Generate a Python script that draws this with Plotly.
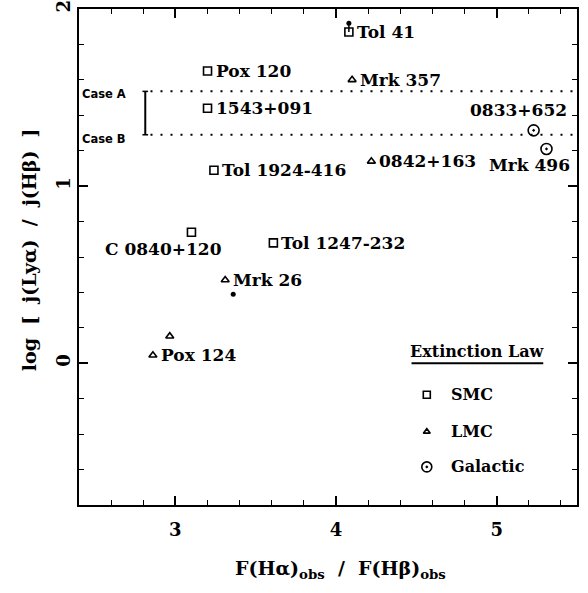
import plotly.graph_objects as go

# Galaxies: observed Balmer decrement vs. intrinsic Lyα/Hβ emissivity ratio
names = ["Tol 41", "Pox 120", "1543+091", "Tol 1924-416", "C 0840+120", "Tol 1247-232",
         "Mrk 357", "0842+163", "Mrk 26", "Pox 124", "0833+652", "Mrk 496"]
ha_hb = [4.08, 3.20, 3.20, 3.24, 3.10, 3.61, 4.10, 4.22, 3.31, 2.86, 5.23, 5.31]
log_ly_hb = [1.87, 1.65, 1.44, 1.09, 0.74, 0.68, 1.60, 1.14, 0.47, 0.045, 1.315, 1.21]
ext_law = ["SMC"] * 6 + ["LMC"] * 4 + ["Galactic"] * 2

# Additional unlabelled LMC-corrected value
extra_x = [2.965]
extra_y = [0.153]

# Alternative estimates (filled dots)
alt_names = ["Tol 41", "Mrk 26"]
alt_x = [4.08, 3.36]
alt_y = [1.92, 0.39]

# Recombination predictions
case_a = 1.535
case_b = 1.29

legend_laws = ["SMC", "LMC", "Galactic"]
x_ticks = [3, 4, 5]
y_ticks = [0, 1, 2]

symbols = {"SMC": "square-open", "LMC": "triangle-up-open", "Galactic": "circle-open-dot"}
sizes = {"SMC": 8, "LMC": 7, "Galactic": 11}

FONT = "DejaVu Serif"
fig = go.Figure()

for law in legend_laws:
    xs = [x for x, l in zip(ha_hb, ext_law) if l == law]
    ys = [y for y, l in zip(log_ly_hb, ext_law) if l == law]
    if law == "LMC":
        xs += extra_x
        ys += extra_y
    fig.add_trace(go.Scatter(
        x=xs, y=ys, mode="markers", showlegend=False,
        marker=dict(symbol=symbols[law], size=sizes[law], color="black",
                    line=dict(color="black", width=1.6))))

# link between Tol 41 estimates
i0 = names.index("Tol 41")
j0 = alt_names.index("Tol 41")
fig.add_trace(go.Scatter(x=[ha_hb[i0], alt_x[j0]], y=[log_ly_hb[i0], alt_y[j0]],
                         mode="lines", line=dict(color="black", width=1.5), showlegend=False))
fig.add_trace(go.Scatter(x=alt_x, y=alt_y, mode="markers", showlegend=False,
                         marker=dict(symbol="circle", size=5, color="black")))

# labels: (xanchor, xshift, yshift)
label_pos = {
    "0833+652": ("center", -15, 20),
    "Mrk 496": ("center", -17, -16),
    "C 0840+120": ("center", -28, -17),
}
for n, x, y in zip(names, ha_hb, log_ly_hb):
    xa, xs, ys = label_pos.get(n, ("left", 6, 0))
    fig.add_annotation(x=x, y=y, text="<b>%s</b>" % n, showarrow=False,
                       xanchor=xa, yanchor="middle", xshift=xs, yshift=ys,
                       font=dict(family=FONT, size=17, color="black"))

# Case A / Case B
x_lo, x_hi = 2.4, 5.5
for yv, lab, dy in [(case_a, "Case A", -3), (case_b, "Case B", -4)]:
    fig.add_shape(type="line", x0=2.845, x1=x_hi, y0=yv, y1=yv,
                  line=dict(color="black", width=2, dash="2px,8px"))
    fig.add_annotation(x=x_lo, y=yv, text="<b>%s</b>" % lab, showarrow=False,
                       xanchor="left", yanchor="middle", xshift=1, yshift=dy,
                       font=dict(family="DejaVu Sans", size=11.5, color="black"))
    fig.add_shape(type="line", x0=2.795, x1=2.83, y0=yv, y1=yv,
                  line=dict(color="black", width=1.5))
fig.add_shape(type="line", x0=2.8125, x1=2.8125, y0=case_b, y1=case_a,
              line=dict(color="black", width=2))

# extinction law key
key_x = 4.565
key_y = [-0.178, -0.386, -0.585]
fig.add_annotation(x=4.88, y=0.064, text="<b>Extinction Law</b>", showarrow=False,
                   xanchor="center", yanchor="middle",
                   font=dict(family=FONT, size=16, color="black"))
fig.add_shape(type="line", x0=4.47, x1=5.29, y0=0.0, y1=0.0,
              line=dict(color="black", width=2))
for law, ky in zip(legend_laws, key_y):
    fig.add_trace(go.Scatter(x=[key_x], y=[ky], mode="markers", showlegend=False,
                             marker=dict(symbol=symbols[law], size=sizes[law] - 1,
                                         color="black", line=dict(color="black", width=1.6))))
    fig.add_annotation(x=key_x, y=ky, text="<b>%s</b>" % law, showarrow=False,
                       xanchor="left", yanchor="middle", xshift=22,
                       font=dict(family=FONT, size=16, color="black"))

axis_common = dict(showline=True, linecolor="black", linewidth=1.6, mirror="ticks",
                   ticks="inside", ticklen=9, tickwidth=1.5, tickcolor="black",
                   showgrid=False, zeroline=False, automargin=False,
                   tickfont=dict(family=FONT, size=18, color="black", weight="bold"))
fig.update_xaxes(range=[x_lo, x_hi], tickvals=x_ticks, ticklabelstandoff=8,
                 minor=dict(dtick=0.2, ticks="inside", ticklen=5, tickwidth=1.2,
                            tickcolor="black", showgrid=False),
                 **axis_common)
fig.update_yaxes(range=[-0.8, 2.0], tickvals=y_ticks, tickangle=-90,
                 minor=dict(dtick=0.2, ticks="inside", ticklen=5, tickwidth=1.2,
                            tickcolor="black", showgrid=False),
                 **axis_common)

fig.add_annotation(xref="paper", yref="paper", x=0.526, y=-0.131,
                   text="<b>F(Hα)<sub>obs</sub>  /  F(Hβ)<sub>obs</sub></b>",
                   showarrow=False, xanchor="center", yanchor="middle",
                   font=dict(family=FONT, size=19, color="black"))
fig.add_annotation(xref="paper", yref="paper", x=-0.1, y=0.514,
                   text="<b>log  [  j(Lyα)  /  j(Hβ)  ]</b>", textangle=-90,
                   showarrow=False, xanchor="center", yanchor="middle",
                   font=dict(family=FONT, size=19, color="black"))

fig.update_layout(width=588, height=593, margin=dict(l=79, r=11, t=9, b=88),
                  plot_bgcolor="white", paper_bgcolor="white", showlegend=False)

fig.write_html("out.html")
